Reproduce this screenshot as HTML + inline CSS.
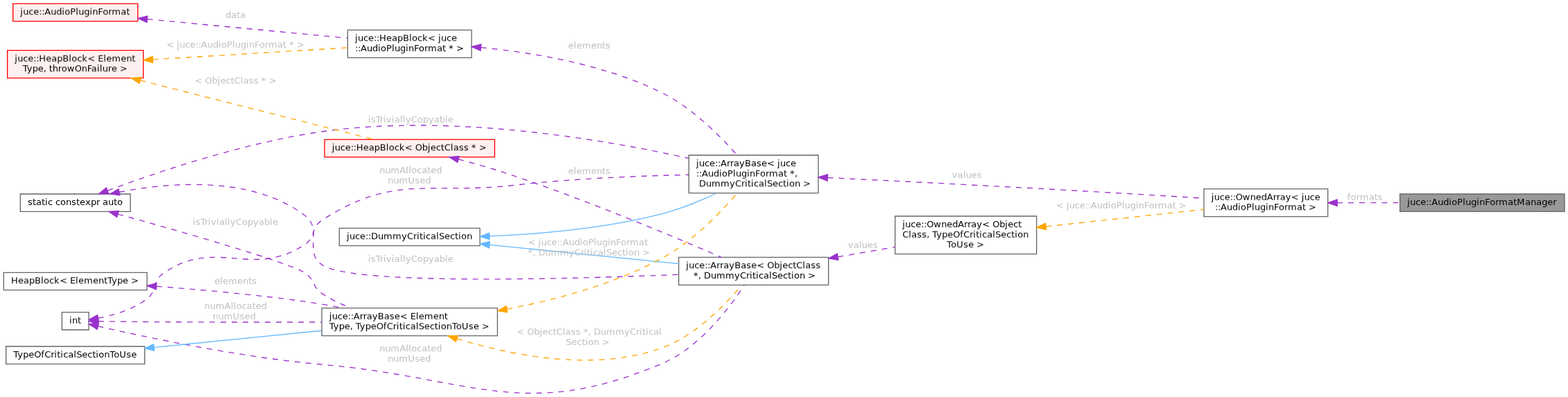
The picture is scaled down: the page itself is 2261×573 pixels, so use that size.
<!DOCTYPE html>
<html lang="en">
<head>
<meta charset="utf-8">
<title>juce::AudioPluginFormatManager collaboration diagram</title>
<style>
html, body { margin: 0; padding: 0; background: #ffffff; }
body { width: 2261px; height: 573px; overflow: hidden; }
svg { display: block; position: absolute; left: 0; top: 0; will-change: transform; }
svg text { font-family: "DejaVu Sans", "Liberation Sans", sans-serif; font-size: 13px; fill: #000000; white-space: pre; }
svg text.l { fill: #c0c0c0; }
svg path { fill: none; stroke-width: 1.3333px; }
svg polygon { stroke-width: 1.3333px; }
</style>
</head>
<body>
<svg width="2261" height="573" viewBox="0 0 2261 573" role="img" aria-label="Collaboration diagram for juce::AudioPluginFormatManager">
<defs>
<filter id="u" x="-10%" y="-30%" width="120%" height="160%" color-interpolation-filters="sRGB"><feOffset in="SourceGraphic" dx="0" dy="-1" result="o"/><feComposite in="SourceGraphic" in2="o" operator="arithmetic" k1="0" k2="0.75" k3="0.25" k4="0"/></filter>
<filter id="d" x="-10%" y="-30%" width="120%" height="160%" color-interpolation-filters="sRGB"><feOffset in="SourceGraphic" dx="0" dy="1" result="o"/><feComposite in="SourceGraphic" in2="o" operator="arithmetic" k1="0" k2="0.75" k3="0.25" k4="0"/></filter>
</defs>
<g>
<polygon fill="#999999" stroke="#666666" points="2256,280 2018.67,280 2018.67,305.33 2256,305.33 2256,280"/>
<text x="2029.25 2033.25 2041.25 2048.25 2056.25 2060.25 2064.25 2073.25 2081.25 2089.25 2093.25 2101.25 2109.25 2113.25 2121.25 2129.25 2133.25 2141.25 2148.25 2156.25 2161.25 2174.25 2182.25 2187.25 2199.25 2207.25 2215.25 2223.25 2231.25 2239.25" y="296">juce::AudioPluginFormatManager</text>
</g>
<g>
<polygon fill="#ffffff" stroke="#666666" points="1914.67,272.67 1736,272.67 1736,312.67 1914.67,312.67 1914.67,272.67"/>
<text filter="url(#u)" x="1746.75 1750.75 1758.75 1765.75 1773.75 1777.75 1781.75 1791.75 1802.75 1810.75 1818.75 1826.75 1835.75 1840.75 1845.75 1853.75 1861.75 1872.75 1876.75 1880.75 1888.75 1895.75" y="289">juce::OwnedArray&lt; juce</text>
<text filter="url(#d)" x="1752 1756 1760 1769 1777 1785 1789 1797 1805 1809 1817 1825 1829 1837 1844 1852 1857 1870 1878 1883 1887" y="303">::AudioPluginFormat &gt;</text>
</g>
<g>
<path stroke="#9a32cd" stroke-dasharray="8 8" d="M1928.32,292.67C1957.07,292.67 1988.6,292.67 2018.21,292.67"/>
<polygon fill="#9a32cd" stroke="#9a32cd" points="1928.23,297.33 1914.89,292.67 1928.23,288 1928.23,297.33"/>
</g>
<text class="l" filter="url(#u)" x="1942.75 1947.75 1955.75 1960.75 1973.75 1981.75 1986.75" y="289">formats</text>
<g>
<polygon fill="#ffffff" stroke="#666666" points="1180,224 993.33,224 993.33,278.67 1180,278.67 1180,224"/>
<text x="1004 1008 1016 1023 1031 1035 1039 1048 1053 1058 1066 1074 1083 1091 1098 1106 1117 1121 1125 1133 1140" y="240">juce::ArrayBase&lt; juce</text>
<text filter="url(#u)" x="1004 1008 1012 1021 1029 1037 1041 1049 1057 1061 1069 1077 1081 1089 1096 1104 1109 1122 1130 1135 1139 1146" y="255">::AudioPluginFormat *,</text>
<text filter="url(#d)" x="1008 1018 1026 1039 1052 1060 1069 1074 1078 1083 1087 1094 1102 1106 1114 1122 1129 1134 1138 1146 1154 1158" y="269">DummyCriticalSection &gt;</text>
</g>
<g>
<path stroke="#9a32cd" stroke-dasharray="8 8" d="M1193.6,256.4C1317.72,262.48 1529.88,273.31 1712,284.67 1719.79,285.16 1727.87,285.68 1735.97,286.23"/>
<polygon fill="#9a32cd" stroke="#9a32cd" points="1193.11,261.04 1180.01,255.73 1193.56,251.72 1193.11,261.04"/>
</g>
<text class="l" filter="url(#u)" x="1372.75 1380.75 1388.75 1392.75 1400.75 1408.75" y="257">values</text>
<g>
<polygon fill="#ffffff" stroke="#666666" points="692,329.33 489.33,329.33 489.33,354.67 692,354.67 692,329.33"/>
<text filter="url(#d)" x="500 504 512 519 527 531 535 545 553 566 579 587 596 601 605 610 614 621 629 633 641 649 656 661 665 673" y="345">juce::DummyCriticalSection</text>
</g>
<g>
<path stroke="#63b8ff" d="M706.05,340.88C778.29,337.88 873.13,329.71 954.67,308.67 981.53,301.73 1009.91,289.89 1033.32,278.77"/>
<polygon fill="#63b8ff" stroke="#63b8ff" points="705.87,345.55 692.37,341.39 705.52,336.23 705.87,345.55"/>
</g>
<g>
<polygon fill="#ffffff" stroke="#666666" points="1194.67,371.33 978.67,371.33 978.67,411.33 1194.67,411.33 1194.67,371.33"/>
<text filter="url(#d)" x="989.25 993.25 1001.25 1008.25 1016.25 1020.25 1024.25 1033.25 1038.25 1043.25 1051.25 1059.25 1068.25 1076.25 1083.25 1091.25 1102.25 1106.25 1116.25 1124.25 1128.25 1136.25 1143.25 1148.25 1157.25 1161.25 1169.25 1176.25" y="387">juce::ArrayBase&lt; ObjectClass</text>
<text x="1000 1007 1011 1015 1025 1033 1046 1059 1067 1076 1081 1085 1090 1094 1101 1109 1113 1121 1129 1136 1141 1145 1153 1161 1165" y="402">*, DummyCriticalSection &gt;</text>
</g>
<g>
<path stroke="#63b8ff" d="M705.88,353.39C788.04,361.6 898.19,372.63 978.64,380.67"/>
<polygon fill="#63b8ff" stroke="#63b8ff" points="705.23,358.01 692.43,352.04 706.16,348.73 705.23,358.01"/>
</g>
<g>
<polygon fill="#ffffff" stroke="#666666" points="188,280 29.33,280 29.33,305.33 188,305.33 188,280"/>
<text x="40 47 52 60 65 69 76 80 87 95 103 110 115 123 131 139 144 148 156 164 169" y="296">static constexpr auto</text>
</g>
<g>
<path stroke="#9a32cd" stroke-dasharray="8 8" d="M155.33,275.03C221.81,250.2 350.2,206.17 464,190 651,163.43 871.29,201.45 992.92,228.44"/>
<polygon fill="#9a32cd" stroke="#9a32cd" points="156.63,279.52 142.51,279.87 153.33,270.79 156.63,279.52"/>
</g>
<text class="l" filter="url(#u)" x="530.75 534.75 541.75 547.75 552.75 556.75 564.75 568.75 576.75 580.75 584.75 592.75 601.75 609.75 617.75 625.75 633.75 641.75 645.75" y="177">isTriviallyCopyable</text>
<g>
<polygon fill="#ffffff" stroke="#666666" points="717.33,444.67 464,444.67 464,484.67 717.33,484.67 717.33,444.67"/>
<text filter="url(#u)" x="474.75 478.75 486.75 493.75 501.75 505.75 509.75 518.75 523.75 528.75 536.75 544.75 553.75 561.75 568.75 576.75 587.75 591.75 599.75 603.75 611.75 624.75 632.75 640.75" y="461">juce::ArrayBase&lt; Element</text>
<text filter="url(#d)" x="474.75 480.75 488.75 496.75 504.75 508.75 512.75 518.75 526.75 534.75 542.75 552.75 557.75 566.75 571.75 575.75 580.75 584.75 591.75 599.75 603.75 611.75 619.75 626.75 631.75 635.75 643.75 651.75 657.75 665.75 675.75 682.75 690.75 694.75" y="475">Type, TypeOfCriticalSectionToUse &gt;</text>
</g>
<g>
<path stroke="#9a32cd" stroke-dasharray="8 8" d="M170.19,309.11C259.04,333.68 417.28,378.75 440,394 453.99,403.4 450.12,413.8 464,423.33 476.65,432.03 491.27,439 505.95,444.56"/>
<polygon fill="#9a32cd" stroke="#9a32cd" points="168.69,313.53 157.08,305.49 171.17,304.55 168.69,313.53"/>
</g>
<text class="l" filter="url(#u)" x="278 282 289 295 300 304 312 316 324 328 332 340 349 357 365 373 381 389 393" y="325">isTriviallyCopyable</text>
<g>
<path stroke="#9a32cd" stroke-dasharray="8 8" d="M172.16,277.24C244.23,263.27 362.96,252.77 440,311.33 466.4,331.41 437.19,362.48 464,382 504.4,411.4 811.68,403.15 978.45,396.33"/>
<polygon fill="#9a32cd" stroke="#9a32cd" points="172.83,281.87 158.83,279.97 170.95,272.73 172.83,281.87"/>
</g>
<text class="l" x="530.75 534.75 541.75 547.75 552.75 556.75 564.75 568.75 576.75 580.75 584.75 592.75 601.75 609.75 617.75 625.75 633.75 641.75 645.75" y="378">isTriviallyCopyable</text>
<g>
<polygon fill="#ffffff" stroke="#666666" points="680,43.33 501.33,43.33 501.33,83.33 680,83.33 680,43.33"/>
<text filter="url(#d)" x="512 516 524 531 539 543 547 557 565 573 581 590 594 602 609 617 628 632 636 644 651" y="59">juce::HeapBlock&lt; juce</text>
<text x="512 516 520 529 537 545 549 557 565 569 577 585 589 597 604 612 617 630 638 643 647 654 658" y="74">::AudioPluginFormat * &gt;</text>
</g>
<g>
<path stroke="#9a32cd" stroke-dasharray="8 8" d="M693.83,68.6C769.23,75.88 872.64,93.15 954.67,134 998.6,155.88 1038.96,196.65 1062.85,223.89"/>
<polygon fill="#9a32cd" stroke="#9a32cd" points="692.95,73.21 680.09,67.36 693.8,63.92 692.95,73.21"/>
</g>
<text class="l" x="819.25 827.25 831.25 839.25 852.25 860.25 868.25 873.25" y="70">elements</text>
<g>
<polygon fill="#fff0f0" stroke="red" points="198.67,5.33 18.67,5.33 18.67,30.67 198.67,30.67 198.67,5.33"/>
<text filter="url(#d)" x="29.25 33.25 41.25 48.25 56.25 60.25 64.25 73.25 81.25 89.25 93.25 101.25 109.25 113.25 121.25 129.25 133.25 141.25 148.25 156.25 161.25 174.25 182.25" y="21">juce::AudioPluginFormat</text>
</g>
<g>
<path stroke="#9a32cd" stroke-dasharray="8 8" d="M212.49,27.69C298.36,35.81 419.61,47.28 501.17,55"/>
<polygon fill="#9a32cd" stroke="#9a32cd" points="211.87,32.32 199.04,26.43 212.75,23.03 211.87,32.32"/>
</g>
<text class="l" x="325.25 333.25 341.25 346.25" y="26">data</text>
<g>
<polygon fill="#fff0f0" stroke="red" points="206.67,72.67 10.67,72.67 10.67,112.67 206.67,112.67 206.67,72.67"/>
<text filter="url(#u)" x="21.25 25.25 33.25 40.25 48.25 52.25 56.25 66.25 74.25 82.25 90.25 99.25 103.25 111.25 118.25 126.25 137.25 141.25 149.25 153.25 161.25 174.25 182.25 190.25" y="89">juce::HeapBlock&lt; Element</text>
<text filter="url(#d)" x="32.75 38.75 46.75 54.75 62.75 66.75 70.75 75.75 83.75 88.75 96.75 107.75 117.75 125.75 131.75 139.75 143.75 147.75 155.75 160.75 168.75 172.75" y="103">Type, throwOnFailure &gt;</text>
</g>
<g>
<path stroke="orange" stroke-dasharray="8 8" d="M220.4,85.91C305.59,80.69 421.87,73.59 500.96,68.75"/>
<polygon fill="orange" stroke="orange" points="220.6,90.57 207,86.73 220.03,81.25 220.6,90.57"/>
</g>
<text class="l" filter="url(#u)" x="240 251 255 259 267 274 282 286 290 299 307 315 319 327 335 339 347 355 359 367 374 382 387 400 408 413 417 424 428" y="69">&lt; juce::AudioPluginFormat * &gt;</text>
<g>
<polygon fill="#fff0f0" stroke="red" points="713.33,201.33 468,201.33 468,226.67 713.33,226.67 713.33,201.33"/>
<text filter="url(#d)" x="478.75 482.75 490.75 497.75 505.75 509.75 513.75 523.75 531.75 539.75 547.75 556.75 560.75 568.75 575.75 583.75 594.75 598.75 608.75 616.75 620.75 628.75 635.75 640.75 649.75 653.75 661.75 668.75 675.75 679.75 686.75 690.75" y="217">juce::HeapBlock&lt; ObjectClass * &gt;</text>
</g>
<g>
<path stroke="orange" stroke-dasharray="8 8" d="M202.32,116.04C302.69,141.44 459.43,181.12 539.13,201.29"/>
<polygon fill="orange" stroke="orange" points="200.93,120.49 189.15,112.71 203.23,111.45 200.93,120.49"/>
</g>
<text class="l" filter="url(#u)" x="280.75 291.75 295.75 305.75 313.75 317.75 325.75 332.75 337.75 346.75 350.75 358.75 365.75 372.75 376.75 383.75 387.75" y="121">&lt; ObjectClass * &gt;</text>
<g>
<polygon fill="#ffffff" stroke="#666666" points="128,450.67 89.33,450.67 89.33,476 128,476 128,450.67"/>
<text filter="url(#u)" x="100 104 112" y="467">int</text>
</g>
<g>
<path stroke="#9a32cd" stroke-dasharray="8 8" d="M142,459.12C163.53,454.97 191.61,446.88 212,431.33 227.68,419.37 219.72,405.13 236,394 312.37,341.79 362.75,403.56 440,352.67 455.65,342.36 448.25,328.16 464,318 569.29,250.07 616.84,281.53 741.33,267.33 826.28,257.64 923.67,253.79 993.08,252.27"/>
<polygon fill="#9a32cd" stroke="#9a32cd" points="142.23,463.81 128.31,461.4 140.69,454.61 142.23,463.81"/>
</g>
<text class="l" x="547.25 555.25 563.25 576.25 585.25 589.25 593.25 601.25 608.25 616.25 621.25 629.25" y="250">numAllocated</text>
<text class="l" filter="url(#u)" x="559.25 567.25 575.25 588.25 598.25 605.25 613.25" y="265">numUsed</text>
<g>
<path stroke="#9a32cd" stroke-dasharray="8 8" d="M141.96,463.76C167.43,464.09 204,464.49 236,464.67 311.6,465.07 396.31,465.08 463.83,464.99"/>
<polygon fill="#9a32cd" stroke="#9a32cd" points="141.64,468.43 128.36,463.59 141.76,459.09 141.64,468.43"/>
</g>
<text class="l" x="294.75 302.75 310.75 323.75 332.75 336.75 340.75 348.75 355.75 363.75 368.75 376.75" y="446">numAllocated</text>
<text class="l" filter="url(#u)" x="306.75 314.75 322.75 335.75 345.75 352.75 360.75" y="461">numUsed</text>
<g>
<path stroke="#9a32cd" stroke-dasharray="8 8" d="M141.49,470.83C203.03,485.04 343.69,515.44 464,526 681.24,545.08 753.85,609.71 954.67,524.67 1009.59,501.41 1053.05,442.71 1073.17,411.52"/>
<polygon fill="#9a32cd" stroke="#9a32cd" points="140.2,475.32 128.28,467.75 142.32,466.23 140.2,475.32"/>
</g>
<text class="l" filter="url(#d)" x="547.25 555.25 563.25 576.25 585.25 589.25 593.25 601.25 608.25 616.25 621.25 629.25" y="507">numAllocated</text>
<text class="l" x="559.25 567.25 575.25 588.25 598.25 605.25 613.25" y="522">numUsed</text>
<g>
<path stroke="orange" stroke-dasharray="8 8" d="M731.08,446.15C801.23,432.75 885.79,410.16 954.67,372.67 998.72,348.69 1039.35,306.48 1063.24,278.71"/>
<polygon fill="orange" stroke="orange" points="731.68,450.79 717.71,448.63 729.97,441.61 731.68,450.79"/>
</g>
<text class="l" x="761.25 772.25 776.25 780.25 788.25 795.25 803.25 807.25 811.25 820.25 828.25 836.25 840.25 848.25 856.25 860.25 868.25 876.25 880.25 888.25 895.25 903.25 908.25 921.25 929.25" y="354">&lt; juce::AudioPluginFormat</text>
<text class="l" filter="url(#u)" x="761.25 768.25 772.25 776.25 786.25 794.25 807.25 820.25 828.25 837.25 842.25 846.25 851.25 855.25 862.25 870.25 874.25 882.25 890.25 897.25 902.25 906.25 914.25 922.25 926.25" y="369">*, DummyCriticalSection &gt;</text>
<g>
<path stroke="orange" stroke-dasharray="8 8" d="M658.97,488.85C733.47,511.87 856.28,538.07 954.67,502 1003.79,484 1047.13,438.44 1069.41,411.72"/>
<polygon fill="orange" stroke="orange" points="657.39,493.25 646.09,484.76 660.21,484.36 657.39,493.25"/>
</g>
<text class="l" filter="url(#d)" x="745.25 756.25 760.25 770.25 778.25 782.25 790.25 797.25 802.25 811.25 815.25 823.25 830.25 837.25 841.25 848.25 852.25 856.25 866.25 874.25 887.25 900.25 908.25 917.25 922.25 926.25 931.25 935.25 942.25 950.25" y="483">&lt; ObjectClass *, DummyCritical</text>
<text class="l" x="816 824 832 839 844 848 856 864 868" y="498">Section &gt;</text>
<g>
<polygon fill="#ffffff" stroke="#666666" points="208.67,500 8.67,500 8.67,525.33 208.67,525.33 208.67,500"/>
<text x="19.25 25.25 33.25 41.25 49.25 59.25 64.25 73.25 78.25 82.25 87.25 91.25 98.25 106.25 110.25 118.25 126.25 133.25 138.25 142.25 150.25 158.25 164.25 172.25 182.25 189.25" y="516">TypeOfCriticalSectionToUse</text>
</g>
<g>
<path stroke="#63b8ff" d="M222.44,501.41C294.81,494.16 388.97,484.73 463.79,477.24"/>
<polygon fill="#63b8ff" stroke="#63b8ff" points="222.47,506.09 208.73,502.79 221.53,496.81 222.47,506.09"/>
</g>
<g>
<polygon fill="#ffffff" stroke="#666666" points="212,393.33 5.33,393.33 5.33,418.67 212,418.67 212,393.33"/>
<text filter="url(#d)" x="16 26 34 42 50 59 63 71 78 86 97 101 109 113 121 134 142 150 155 161 169 177 185 189" y="409">HeapBlock&lt; ElementType &gt;</text>
</g>
<g>
<path stroke="#9a32cd" stroke-dasharray="8 8" d="M225.84,413.31C289.28,418.05 369.17,425.25 440,435.33 457.92,437.88 476.93,441.17 495.19,444.61"/>
<polygon fill="#9a32cd" stroke="#9a32cd" points="225.11,417.92 212.15,412.29 225.79,408.61 225.11,417.92"/>
</g>
<text class="l" x="309.25 317.25 321.25 329.25 342.25 350.25 358.25 363.25" y="410">elements</text>
<g>
<polygon fill="#ffffff" stroke="#666666" points="1494.67,312 1290.67,312 1290.67,366.67 1494.67,366.67 1494.67,312"/>
<text x="1301.25 1305.25 1313.25 1320.25 1328.25 1332.25 1336.25 1346.25 1357.25 1365.25 1373.25 1381.25 1390.25 1395.25 1400.25 1408.25 1416.25 1427.25 1431.25 1441.25 1449.25 1453.25 1461.25 1468.25" y="328">juce::OwnedArray&lt; Object</text>
<text filter="url(#u)" x="1301.25 1310.25 1314.25 1322.25 1329.25 1336.25 1340.25 1344.25 1350.25 1358.25 1366.25 1374.25 1384.25 1389.25 1398.25 1403.25 1407.25 1412.25 1416.25 1423.25 1431.25 1435.25 1443.25 1451.25 1458.25 1463.25 1467.25 1475.25" y="343">Class, TypeOfCriticalSection</text>
<text filter="url(#d)" x="1365.25 1371.25 1379.25 1389.25 1396.25 1404.25 1408.25" y="357">ToUse &gt;</text>
</g>
<g>
<path stroke="orange" stroke-dasharray="8 8" d="M1508.36,326.92C1579.68,319.19 1670.08,309.37 1735.84,302.24"/>
<polygon fill="orange" stroke="orange" points="1508.57,331.6 1494.81,328.4 1507.57,322.32 1508.57,331.6"/>
</g>
<text class="l" filter="url(#u)" x="1522.75 1533.75 1537.75 1541.75 1549.75 1556.75 1564.75 1568.75 1572.75 1581.75 1589.75 1597.75 1601.75 1609.75 1617.75 1621.75 1629.75 1637.75 1641.75 1649.75 1656.75 1664.75 1669.75 1682.75 1690.75 1695.75 1699.75" y="301">&lt; juce::AudioPluginFormat &gt;</text>
<g>
<path stroke="#9a32cd" stroke-dasharray="8 8" d="M1208.19,370.73C1235.43,366.07 1264.09,361.15 1290.44,356.63"/>
<polygon fill="#9a32cd" stroke="#9a32cd" points="1208.88,375.35 1194.95,373 1207.29,366.15 1208.88,375.35"/>
</g>
<text class="l" x="1222.75 1230.75 1238.75 1242.75 1250.75 1258.75" y="358">values</text>
<g>
<path stroke="#9a32cd" stroke-dasharray="8 8" d="M661.08,229.97C679.49,234.68 699.28,240.16 717.33,246 835.95,284.4 971.35,341.4 1040.11,371.33"/>
<polygon fill="#9a32cd" stroke="#9a32cd" points="659.76,234.45 647.96,226.69 662.03,225.4 659.76,234.45"/>
</g>
<text class="l" filter="url(#d)" x="819.25 827.25 831.25 839.25 852.25 860.25 868.25 873.25" y="251">elements</text>
</svg>
</body>
</html>
